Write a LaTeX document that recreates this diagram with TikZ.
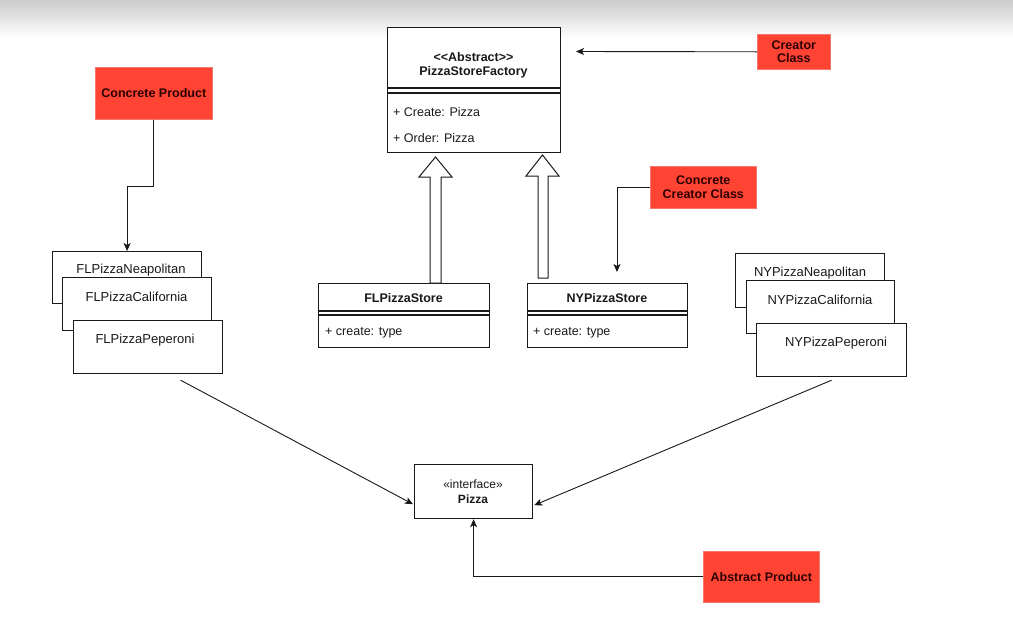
\documentclass[tikz,border=0pt]{standalone}
\usepackage{fontspec}
\setmainfont{Liberation Sans}[Ligatures=TeXOff]
\usetikzlibrary{arrows.meta,calc}
\definecolor{redbox}{RGB}{255,68,51}
\definecolor{redline}{RGB}{240,120,110}
\definecolor{redtext}{RGB}{45,0,0}
\definecolor{ink}{RGB}{25,25,25}
\begin{document}
\begin{tikzpicture}[x=1pt,y=-1pt,
  box/.style={draw=ink,line width=1.2pt,fill=white,inner sep=0pt,anchor=north west},
  note/.style={fill=redbox,draw=redline,line width=0.6pt,inner sep=0pt,anchor=north west,
    align=center,text=redtext,font=\fontsize{12.5}{14.5}\selectfont\bfseries},
  lbl/.style={font=\fontsize{12.5}{14.5}\selectfont,text=ink,inner sep=0pt},
  plbl/.style={font=\fontsize{13}{15}\selectfont,text=ink,inner sep=0pt},
  blbl/.style={font=\fontsize{12.5}{14.5}\selectfont\bfseries,text=ink,inner sep=0pt},
  sep/.style={draw=ink,line width=1.1pt},
  conn/.style={draw=ink,line width=0.9pt,-{Stealth[length=8pt,width=7pt,inset=2pt]}},
  hollow/.style={draw=ink,line width=1pt,fill=white,line join=miter}]

\useasboundingbox (0,0) rectangle (1013,619);
\shade[top color=black!20,bottom color=white] (0,0) rectangle (1013,38);

% ---- abstract creator
\node[box,minimum width=173,minimum height=125] (psf) at (387,27) {};
\draw[sep] ([yshift=-61pt]psf.north west) -- ([yshift=-61pt]psf.north east);
\draw[sep] ([yshift=-66pt]psf.north west) -- ([yshift=-66pt]psf.north east);
\node[blbl] (psf-s) at (473.5,57) {<\kern0pt<Abstract>\kern0pt>};
\node[blbl] (psf-n) at (473.5,72) {PizzaStoreFactory};
\node[lbl,anchor=west] (psf-a1) at (393,112) {+ Create: Pizza};
\node[lbl,anchor=west] (psf-a2) at (393,138) {+ Order: Pizza};

% ---- concrete creators
\node[box,minimum width=171,minimum height=64] (fls) at (318,283) {};
\draw[sep] ([yshift=-28pt]fls.north west) -- ([yshift=-28pt]fls.north east);
\draw[sep] ([yshift=-32pt]fls.north west) -- ([yshift=-32pt]fls.north east);
\node[blbl] (fls-n) at (403.5,298) {FLPizzaStore};
\node[lbl,anchor=west] (fls-a) at (325,333) {+ create: type};

\node[box,minimum width=160,minimum height=64] (nys) at (527,283) {};
\draw[sep] ([yshift=-28pt]nys.north west) -- ([yshift=-28pt]nys.north east);
\draw[sep] ([yshift=-32pt]nys.north west) -- ([yshift=-32pt]nys.north east);
\node[blbl] (nys-n) at (607,298) {NYPizzaStore};
\node[lbl,anchor=west] (nys-a) at (533,333) {+ create: type};

% ---- block (generalisation) arrows
\coordinate (ga1) at (430,283);
\coordinate (ga2) at (538,278);
\draw[hollow] (ga1) -- (430,177) -- (419,177) -- (435.5,157) -- (452,177) -- (441,177) -- (441,283) -- cycle;
\draw[hollow] (ga2) -- (538,176) -- (526,176) -- (542.5,155) -- (559,176) -- (548,176) -- (548,278) -- cycle;

% ---- FL products
\node[box,minimum width=149,minimum height=52] (fln) at (52,251) {};
\node[plbl] (fln-t) at (131,270) {FLPizzaNeapolitan};
\node[box,minimum width=149,minimum height=53] (flc) at (62,277) {};
\node[plbl] (flc-t) at (136.5,297) {FLPizzaCalifornia};
\node[box,minimum width=149,minimum height=53] (flp) at (73,320) {};
\node[plbl] (flp-t) at (145,340) {FLPizzaPeperoni};

% ---- NY products
\node[box,minimum width=149,minimum height=54] (nyn) at (735,253) {};
\node[plbl] (nyn-t) at (810,273) {NYPizzaNeapolitan};
\node[box,minimum width=148,minimum height=53] (nyc) at (746,280) {};
\node[plbl] (nyc-t) at (820,300) {NYPizzaCalifornia};
\node[box,minimum width=150,minimum height=53] (nyp) at (756,323) {};
\node[plbl] (nyp-t) at (836,343) {NYPizzaPeperoni};

% ---- interface
\node[box,minimum width=118,minimum height=54] (pz) at (414,464) {};
\node[lbl,font=\fontsize{12}{14}\selectfont] (pz-s) at (473,484) {«interface»};
\node[blbl,font=\fontsize{12}{14}\selectfont\bfseries] (pz-n) at (473,499) {Pizza};

% ---- notes
\node[note,minimum width=73,minimum height=35] (cc) at (757,34) {Creator\\[-1pt]Class};
\node[note,minimum width=117,minimum height=52] (cp) at (95,67) {Concrete Product};
\node[note,minimum width=106,minimum height=42] (ccc) at (650,166) {Concrete\\[-1pt]Creator Class};
\node[note,minimum width=116,minimum height=51] (ap) at (703,551) {Abstract Product};

% ---- connectors
\coordinate (ccend) at (576,51.5);
\draw[conn] (cc.west) -- (ccend);
\draw[conn] (cp.south) -- ++(0,67) -| (fln.north);
\coordinate (cccend) at (617,272);
\draw[conn] (ccc.west) -| (cccend);
\draw[conn] (ap.west) -| (pz.south);

\coordinate (flstart) at ($(flp.south)+(32.5,6)$);
\coordinate (flend) at ($(pz.south west)+(-1,-15)$);
\draw[conn] (flstart) -- (flend);
\coordinate (nystart) at ($(nyp.south)+(0,3)$);
\coordinate (nyend) at ($(pz.south east)+(1,-14)$);
\draw[conn] (nystart) -- (nyend);
\end{tikzpicture}
\end{document}
